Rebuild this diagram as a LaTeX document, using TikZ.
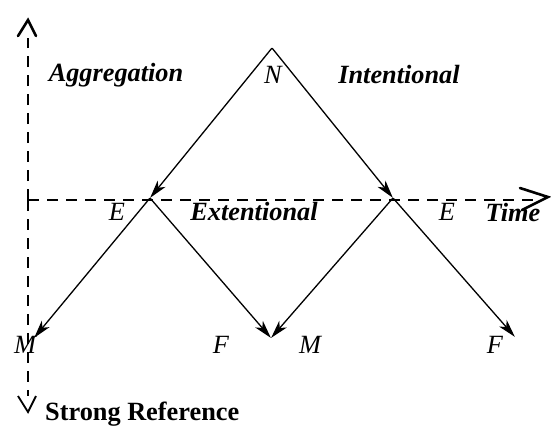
\documentclass[tikz,border=0pt]{standalone}
\usepackage{fontspec}
\setmainfont{Liberation Serif}
\usetikzlibrary{arrows.meta}
\tikzset{
  axis/.style={line width=2.6pt, dash pattern=on 11pt off 8pt},
  flow/.style={line width=1.3pt, -{Stealth[length=18pt,width=10pt,inset=5pt]}},
  lab/.style={font=\fontsize{26.3}{30}\selectfont\itshape, inner sep=0pt},
  blab/.style={font=\fontsize{26.3}{30}\selectfont\bfseries\itshape, inner sep=0pt},
  pt/.style={inner sep=0pt, minimum size=0pt}
}
\begin{document}
\begin{tikzpicture}[x=1pt,y=-1pt]
\useasboundingbox (0,0) rectangle (551,426);
% axes
\coordinate (O) at (28,200);
\coordinate (Top) at (28,20);
\coordinate (Bot) at (28,412);
\coordinate (Right) at (548,197);
\draw[axis] (O) -- (28,38);
\draw[line width=2.6pt, line cap=round] (18,36) -- (Top) -- (36,36);
\draw[axis] (O) -- (28,396);
\draw[line width=1.8pt] (18,396) -- (Bot) -- (36,396);
\draw[axis] (O) -- (534,200);
\draw[line width=2.6pt, line cap=round] (520,188) -- (Right) -- (522,210);
% points
\node[pt] (N) at (272,48) {};
\node[pt] (E1) at (150,198) {};
\node[pt] (E2) at (393,198) {};
\node[pt] (M1) at (34,338) {};
\node[pt] (F1) at (271,338) {};
\node[pt] (F2) at (515,337) {};
% arrows
\draw[flow] (N) -- (E1);
\draw[flow] (N) -- (E2);
\draw[flow] (E1) -- (M1);
\draw[flow] (E1) -- (F1);
\draw[flow] (E2) -- (F1);
\draw[flow] (E2) -- (F2);
% labels
\node[blab] (agg) at (116,75) {Aggregation};
\node[lab] (nl) at (273,75) {N};
\node[blab] (int) at (399,75) {Intentional};
\node[lab] (e1l) at (117,212) {E};
\node[blab] (ext) at (254,212) {Extentional};
\node[lab] (e2l) at (447,212) {E};
\node[blab] (time) at (513,212) {Time};
\node[lab] (m1l) at (25,345) {M};
\node[lab] (f1l) at (221,345) {F};
\node[lab] (m2l) at (310,345) {M};
\node[lab] (f2l) at (495,345) {F};
\node[font=\fontsize{26.3}{30}\selectfont\bfseries, inner sep=0pt, anchor=base west] (sr) at (45,420) {Strong Reference};
\end{tikzpicture}
\end{document}
